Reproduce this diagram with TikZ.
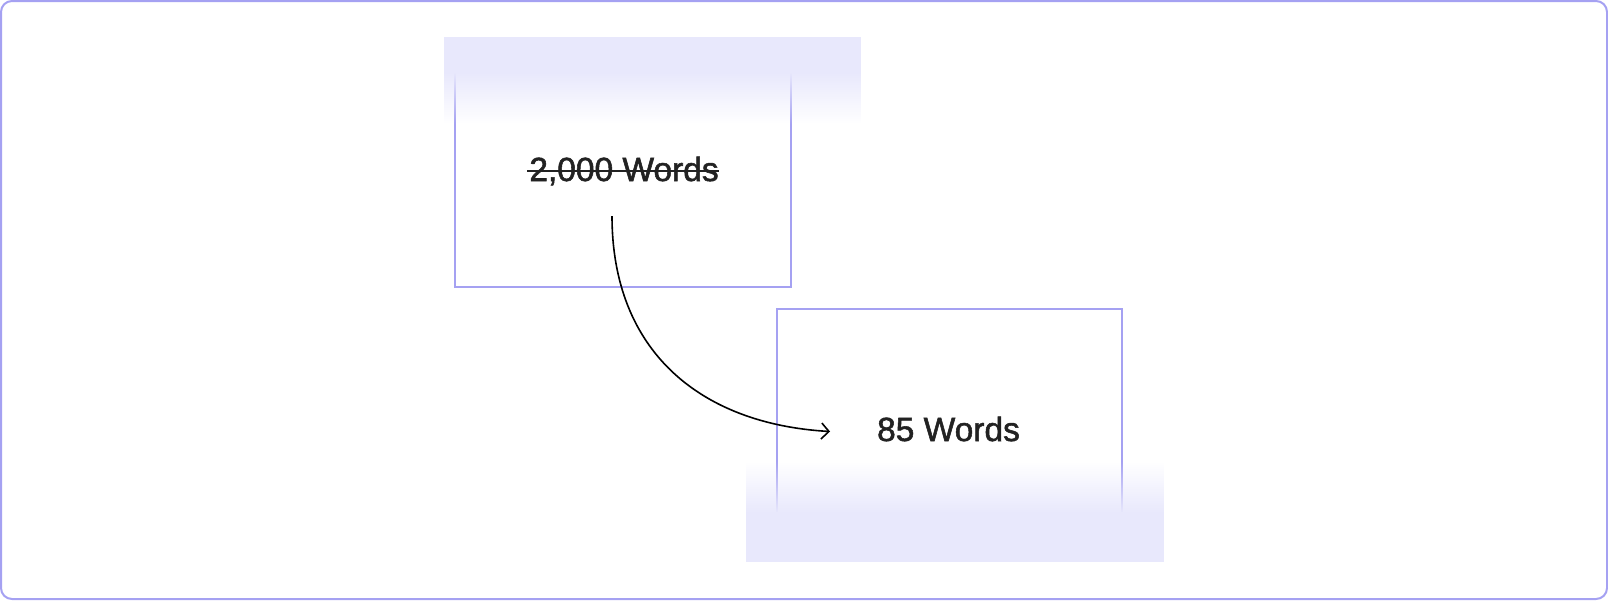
\documentclass[tikz,border=0pt]{standalone}
\usepackage{fontspec}
\setmainfont{Liberation Sans}
\newfontfamily\medfont{Liberation Sans}[FakeBold=1.6]
\usetikzlibrary{arrows.meta,fadings}
\definecolor{frame}{HTML}{A5A1F2}
\definecolor{lav}{HTML}{E8E8FC}
\definecolor{ink}{HTML}{222222}
\tikzfading[name=fadedown, top color=transparent!0, bottom color=transparent!100]
\tikzfading[name=fadeup, top color=transparent!100, bottom color=transparent!0]
\tikzset{
  outline/.style={draw=frame, line width=2pt},
  label/.style={inner sep=0pt, anchor=base, text=ink, font=\medfont\fontsize{33.5}{40}\selectfont},
  connector/.style={draw=black, line width=1.6pt, -{Straight Barb[length=7.5pt,width=16pt,line width=1.6pt]}},
}
\begin{document}
\begin{tikzpicture}[x=1pt,y=-1pt]
\useasboundingbox (0,0) rectangle (1608,600);
\draw[frame, line width=2pt, rounded corners=11pt] (1,1) rectangle (1607,599);
% box 1
\draw[outline] (455,60) -- (455,287) -- (791,287) -- (791,60);
\fill[lav] (444,37) rectangle (861,73);
\fill[lav, path fading=fadedown] (444,72.5) rectangle (861,124);
% box 2
\draw[outline] (777,525) -- (777,309) -- (1122,309) -- (1122,525);
\fill[lav] (746,512) rectangle (1164,562);
\fill[lav, path fading=fadeup] (746,461) rectangle (1164,512.5);
% texts
\node[label] (t1) at (624,181) {2,000 Words};
\draw[ink, line width=1.6pt] ([xshift=-2pt,yshift=10pt]t1.base west) -- ([yshift=10pt]t1.base east);
\node[label] (t2) at (948.5,441) {85 Words};
% connector
\coordinate (a) at (612,216);
\coordinate (b) at (830,431.5);
\draw[connector] (a) .. controls (612,351) and (700,424) .. (b);
\end{tikzpicture}
\end{document}
